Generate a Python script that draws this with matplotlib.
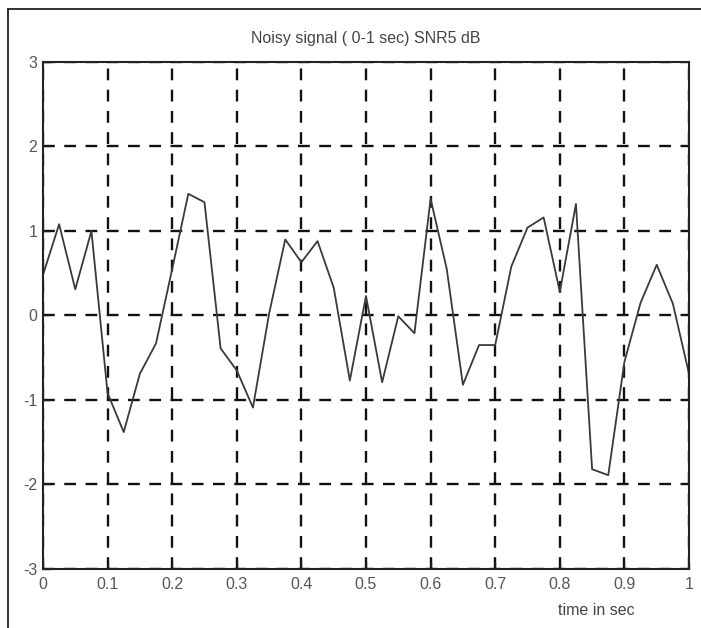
import numpy as np
import matplotlib.pyplot as plt
from matplotlib.lines import Line2D

# noisy signal sampled every 0.025 s over one second
t = np.linspace(0, 1, 41)
signal = [0.48, 1.08, 0.31, 1.0, -0.92, -1.38, -0.69, -0.33, 0.55, 1.44,
          1.34, -0.39, -0.65, -1.09, 0.02, 0.9, 0.63, 0.88, 0.33, -0.77,
          0.23, -0.79, -0.01, -0.21, 1.38, 0.55, -0.82, -0.35, -0.35, 0.58,
          1.04, 1.16, 0.28, 1.32, -1.82, -1.89, -0.55, 0.15, 0.6, 0.14,
          -0.69]

xticks = [0, 0.1, 0.2, 0.3, 0.4, 0.5, 0.6, 0.7, 0.8, 0.9, 1]
xticklabels = ['0', '0.1', '0.2', '0.3', '0.4', '0.5', '0.6', '0.7', '0.8', '0.9', '1']
yticks = [-3, -2, -1, 0, 1, 2, 3]

plt.rcParams['font.family'] = ['Liberation Sans', 'DejaVu Sans']
plt.rcParams['axes.unicode_minus'] = False

fig = plt.figure(figsize=(7.01, 6.28), dpi=100)
ax = fig.add_axes([0.0613, 0.094, 0.9216, 0.8073])

ax.plot(t, signal, color='#3a3a3a', linewidth=1.3)

ax.set_xlim(0, 1)
ax.set_ylim(-3, 3)
ax.set_xticks(xticks)
ax.set_xticklabels(xticklabels)
ax.set_yticks(yticks)
ax.tick_params(direction='in', length=5, width=1, colors='#222222',
               labelcolor='#555555', labelsize=11.5, pad=4)
ax.tick_params(axis='x', pad=6)
ax.grid(True, color='#111111', linestyle=(0, (5, 4)), linewidth=1.7)
for side in ax.spines.values():
    side.set_linewidth(1.5)
    side.set_color('#222222')

ax.set_title('Noisy signal ( 0-1 sec) SNR5 dB', fontsize=11.5, color='#444444', pad=14)
ax.text(0.857, -3.49, 'time in sec', fontsize=11.5, color='#444444',
        ha='center', va='center')

# outer border on the left and top of the picture
fig.add_artist(Line2D([8 / 701, 8 / 701], [0, 1 - 9 / 628], transform=fig.transFigure,
                      color='#222222', linewidth=1.3))
fig.add_artist(Line2D([8 / 701, 1], [1 - 9 / 628, 1 - 9 / 628], transform=fig.transFigure,
                      color='#222222', linewidth=1.3))

fig.savefig('out.png', dpi=100)
